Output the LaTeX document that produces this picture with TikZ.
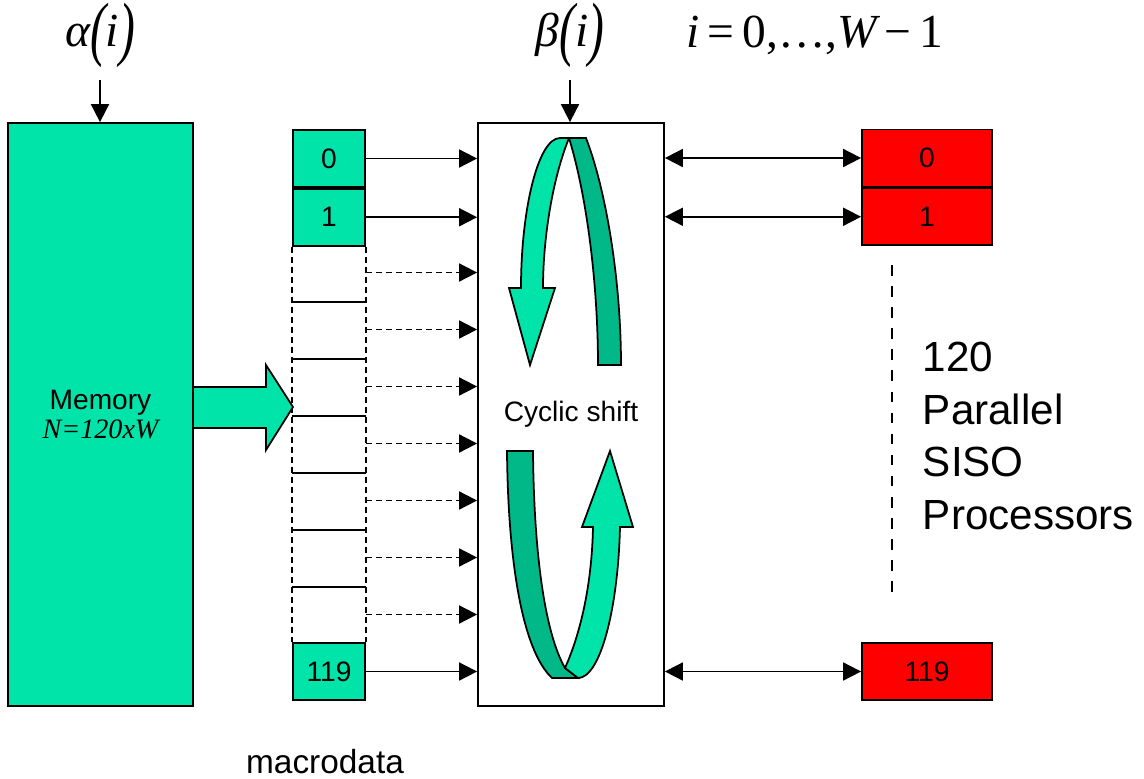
\documentclass[tikz,border=0pt]{standalone}
\usepackage{fontspec}
\usepackage{graphicx}
\setmainfont{Liberation Sans}
\newfontfamily\timesfont{Liberation Serif}
\usepackage{tikz}
\usetikzlibrary{positioning}
\usetikzlibrary{arrows.meta}
\definecolor{memgreen}{RGB}{0,228,170}
\definecolor{darkgreen}{RGB}{0,184,136}
\definecolor{procred}{RGB}{255,0,0}
\newcommand{\tallpar}[1]{\raisebox{-0.25ex}{\scalebox{1}[1.5]{#1}}}

\begin{document}
\begin{tikzpicture}[x=0.1mm, y=-0.1mm, line width=0.5pt,
		>={Triangle[length=1.8mm,width=1.8mm]},
		cell/.style={draw, rectangle, fill=memgreen, minimum width=7.2mm, minimum height=5.7mm, inner sep=0pt, font=\fontsize{8}{9}\selectfont},
		gap/.style={rectangle, minimum width=7.2mm, minimum height=5.7mm, inner sep=0pt},
		proc/.style={draw, rectangle, fill=procred, minimum width=13mm, minimum height=5.7mm, inner sep=0pt, font=\fontsize{8}{9}\selectfont},
		toplabel/.style={font=\fontsize{13.5}{15}\selectfont},
		gapline/.style={dash pattern=on 0.6mm off 0.4mm}]
			\useasboundingbox (0,0) rectangle (1144,778);

			% labels on top
			\node[toplabel] (alpha) at (100,35) {\timesfont\itshape α\tallpar{(}i\tallpar{)}};
			\node[toplabel] (beta) at (570,35) {\timesfont\itshape β\tallpar{(}i\tallpar{)}};
			\node[toplabel] (range) at (815,35) {\timesfont{\itshape i}\,=\,0,…,{\itshape W}\,−\,1};

			% memory and shifter
			\node[draw, rectangle, fill=memgreen, minimum width=18.5mm, minimum height=58.3mm, align=center, font=\fontsize{8}{8.5}\selectfont] (mem) at (100.5,414.5) {Memory\\{\timesfont\itshape N=120xW}};
			\node[draw, rectangle, minimum width=18.6mm, minimum height=58.3mm, font=\fontsize{8}{10}\selectfont] (shift) at (571,414.5) {Cyclic shift};

			\draw[->] (alpha) -- (alpha |- mem.north);
			\draw[->] (beta) -- (beta |- shift.north);

			% macrodata column
			\node[cell] (c0) at (329,158.5) {0};
			\node[cell, below=0pt of c0] (c1) {1};
			\foreach \k in {1,...,7}
				\node[gap] (d\k) at (329,{244+57*(\k-0.5)}) {};
			\node[cell] (c119) at (329,671.5) {119};
			\draw[gapline] (c1.south west) -- (c119.north west);
			\draw[gapline] (c1.south east) -- (c119.north east);
			\foreach \k in {1,...,6}
				\draw (d\k.south west) -- (d\k.south east);
			\node[font=\fontsize{9.5}{11}\selectfont] (macro) at (325,762) {macrodata};

			\filldraw[fill=memgreen] (193,387) -- (266,387) -- (266,365) -- (293,407) -- (266,450) -- (266,428) -- (193,428) -- cycle;

			\foreach \n in {c0,c1,c119}
				\draw[->] (\n) -- (\n -| shift.west);
			\foreach \k in {1,...,7}
				\draw[->, gapline] (d\k.east) -- (d\k -| shift.west);

			% processors
			\node[proc] (r0) at (927,158) {0};
			\node[proc, below=0pt of r0] (r1) {1};
			\node[proc] (r119) at (927,671.5) {119};
			\foreach \n in {r0,r1,r119}
				\draw[<->] (\n -| shift.east) -- (\n);
			\draw[dashed] (892,265) -- (892,595);
			\node[anchor=west, align=left, inner sep=0pt, font=\fontsize{12}{15}\selectfont] (siso) at (922,436) {120\\Parallel\\SISO\\Processors};

			% rotating arrows
			\filldraw[fill=darkgreen] (569,138) -- (586,138) .. controls (606,190) and (621,280) .. (621,365) -- (598,365) .. controls (598,290) and (588,200) .. (569,138) -- cycle;
			\filldraw[fill=memgreen] (569,138) .. controls (552,180) and (543,240) .. (543,288) -- (555,288) -- (530,365) -- (509,288) -- (521,288) .. controls (521,210) and (538,138) .. (560,138) -- cycle;
			\filldraw[fill=darkgreen] (507,451) -- (533,451) .. controls (534,560) and (546,635) .. (565,668) -- (578,678) -- (552,678) .. controls (522,650) and (508,560) .. (507,451) -- cycle;
			\filldraw[fill=memgreen] (565,668) .. controls (582,630) and (592,580) .. (593,527) -- (582,527) -- (610,451) -- (633,527) -- (620,527) .. controls (618,610) and (600,678) .. (578,678) -- cycle;
		\end{tikzpicture}
\end{document}
